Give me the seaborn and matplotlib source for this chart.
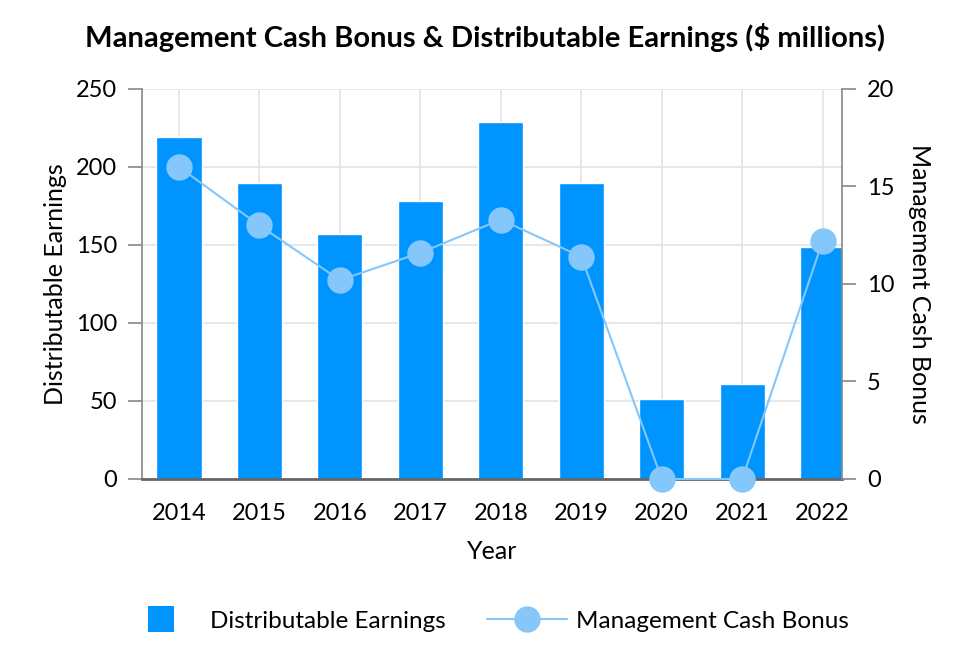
import numpy as np
import pandas as pd
import matplotlib
matplotlib.use('Agg')
import matplotlib.pyplot as plt
import seaborn as sns
from matplotlib.lines import Line2D

# Chart data
years = ['2014', '2015', '2016', '2017', '2018', '2019', '2020', '2021', '2022']
distributable_earnings = [219, 190, 157, 178, 229, 190, 51, 61, 149]
cash_bonus = [16.0, 13.0, 10.2, 11.6, 13.3, 11.4, 0.0, 0.0, 12.2]

bar_color = '#0094FF'
line_color = '#85C7FA'

df = pd.DataFrame({'Year': years, 'Earnings': distributable_earnings, 'Bonus': cash_bonus})

sns.set_style('white')
plt.rcParams['font.family'] = ['Lato', 'DejaVu Sans']
plt.rcParams['text.color'] = 'black'
plt.rcParams['axes.labelcolor'] = 'black'
plt.rcParams['xtick.labelcolor'] = 'black'
plt.rcParams['ytick.labelcolor'] = 'black'

fig = plt.figure(figsize=(9.7, 6.66), dpi=100)
ax = fig.add_axes([0.1464, 0.2808, 0.7216, 0.5856])

sns.barplot(data=df, x='Year', y='Earnings', color=bar_color, width=0.56,
            saturation=1, ax=ax, zorder=2)
ax.set_ylim(0, 250)
ax.set_yticks([0, 50, 100, 150, 200, 250])
ax.set_xlim(-0.46, 8.24)
ax.grid(True, color='#E3E3E3', linewidth=1.2, zorder=0)
ax.set_axisbelow(True)

ax2 = ax.twinx()
sns.lineplot(x=np.arange(len(years)), y=df['Bonus'], color=line_color, marker='o',
             markersize=19, markeredgewidth=0, linewidth=1.5, ax=ax2)
ax2.set_ylim(0, 20)
ax2.set_yticks([0, 5, 10, 15, 20])
ax2.set_xlim(-0.46, 8.24)
for ln in ax2.lines:
    ln.set_clip_on(False)

fs = 17
ax.set_xlabel('Year', fontsize=18, labelpad=12)
ax.set_ylabel('Distributable Earnings', fontsize=18, labelpad=6)
ax2.set_ylabel('Management Cash Bonus', fontsize=18, rotation=270, labelpad=26)

for a in (ax, ax2):
    a.tick_params(axis='both', labelsize=fs, length=10, width=1.2, color='#888888', direction='out')
    for s in a.spines.values():
        s.set_color('#888888')
        s.set_linewidth(1.2)
    a.spines['top'].set_visible(False)
ax.spines['bottom'].set_color('#666666')
ax.spines['bottom'].set_linewidth(2)
ax.spines['right'].set_visible(False)
ax2.spines['left'].set_visible(False)
ax2.spines['bottom'].set_visible(False)
ax.tick_params(axis='x', pad=7)
ax.tick_params(axis='y', pad=8)
ax2.tick_params(axis='y', pad=8)

fig.suptitle('Management Cash Bonus & Distributable Earnings ($ millions)',
             fontsize=21, fontweight='bold', x=0.5, y=0.966)

handles = [Line2D([0], [0], color=bar_color, marker='s', markersize=19,
                  markeredgewidth=0, linestyle='none'),
           Line2D([0], [0], color=line_color, marker='o', markersize=19,
                  markeredgewidth=0, linewidth=1.5)]
fig.legend(handles, ['Distributable Earnings', 'Management Cash Bonus'],
           loc='center', bbox_to_anchor=(0.5, 0.067), ncol=2, frameon=False,
           fontsize=17.5, handlelength=3.3, columnspacing=1.7,
           handletextpad=0.35)

fig.savefig('out.png', dpi=100)
